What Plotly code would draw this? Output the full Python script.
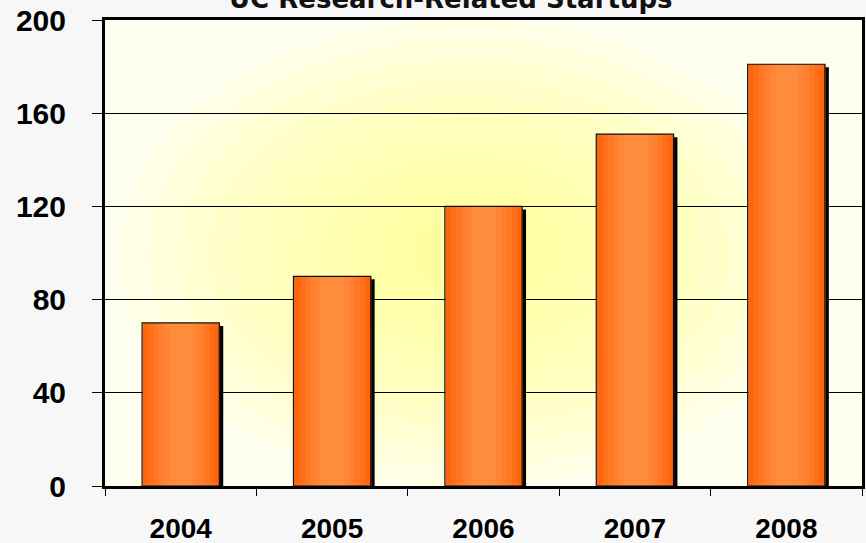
import plotly.graph_objects as go

years = ["2004", "2005", "2006", "2007", "2008"]
startups = [70, 90, 120, 151, 181]
y_ticks = [0, 40, 80, 120, 160, 200]
title_text = "UC Research-Related Startups"

fig = go.Figure()

BAR_W = 0.51
# drop shadow
fig.add_trace(go.Bar(x=years, y=[v - 1.3 for v in startups], width=BAR_W, offset=-BAR_W / 2 + 0.026,
                     marker=dict(color="black", line=dict(width=0)), hoverinfo="skip", showlegend=False))
# gradient layers (horizontal cylinder-like shading)
layers = [(1.0, "#FF650A"), (0.86, "#FF6E18"), (0.72, "#FF7724"), (0.58, "#FF7F2E"),
          (0.44, "#FF8636"), (0.30, "#FF8B3C")]
for frac, col in layers:
    w = BAR_W * frac
    fig.add_trace(go.Bar(x=years, y=startups, width=w, offset=-w / 2 + 0.004,
                         marker=dict(color=col, line=dict(width=0)), hoverinfo="skip", showlegend=False))
# outline
fig.add_trace(go.Bar(x=years, y=startups, width=BAR_W, offset=-BAR_W / 2,
                     marker=dict(color="rgba(0,0,0,0)", line=dict(color="#111", width=1.2)),
                     showlegend=False))

# radial yellow glow in plot background
shapes = []
n = 12
for i in range(n):
    f = 1 - i / n
    rx = 0.46 * f
    ry = 0.50 * f
    cx, cy = 0.48, 0.50
    shapes.append(dict(type="circle", xref="paper", yref="paper", layer="below",
                       x0=cx - rx, x1=cx + rx, y0=cy - ry, y1=cy + ry,
                       fillcolor="rgba(255,255,120,0.09)", line=dict(width=0)))

fig.update_layout(
    width=866, height=543,
    margin=dict(l=105, r=4, t=20, b=57, autoexpand=False),
    paper_bgcolor="#F7F7F7",
    plot_bgcolor="#FFFFF0",
    barmode="overlay",
    shapes=shapes,
    font=dict(family="Liberation Sans, Arial, sans-serif", color="black"),
    annotations=[dict(text="<b>" + title_text + "</b>", xref="paper", yref="paper", x=0.456, y=1,
                      xanchor="center", yanchor="bottom", yshift=4, showarrow=False,
                      font=dict(family="DejaVu Sans, sans-serif", size=26, color="#111"))],
)
fig.update_yaxes(range=[0, 200], tickvals=y_ticks, ticktext=[f"<b>{t}</b>" for t in y_ticks],
                 ticks="outside", ticklen=10, tickcolor="black", tickwidth=1,
                 showline=True, linecolor="black", linewidth=3, mirror=True,
                 showgrid=True, gridcolor="black", gridwidth=1, zeroline=False, automargin=False,
                 tickfont=dict(size=30, family="Liberation Sans, Arial, sans-serif"), ticklabelstandoff=20)
fig.update_xaxes(tickvals=years, ticktext=[f"<b>{y}</b>" for y in years], tickson="boundaries",
                 ticks="outside", ticklen=7, tickcolor="black", tickwidth=1,
                 showline=True, linecolor="black", linewidth=3, mirror=True, automargin=False,
                 showgrid=False, tickfont=dict(size=28, family="Liberation Sans, Arial, sans-serif"),
                 ticklabelstandoff=15, range=[-0.5, 4.5])

fig.write_html("out.html", config={"displayModeBar": False},
               post_script="document.body.style.margin='0';document.body.style.overflow='hidden';")
